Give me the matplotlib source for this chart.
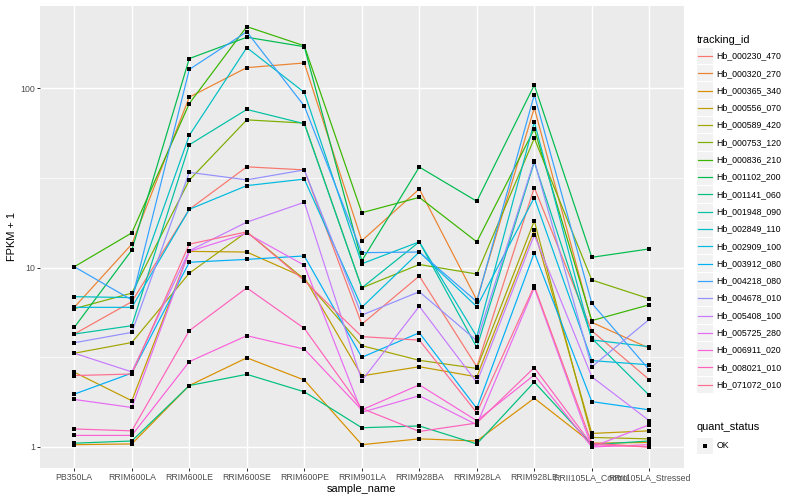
"""FPKM + 1 por muestra para 20 genes (log10), estilo ggplot."""

import matplotlib

matplotlib.use("Agg")

import matplotlib.pyplot as plt
import numpy as np
from matplotlib.lines import Line2D
from matplotlib.patches import Rectangle

plt.rcParams["font.family"] = ["Liberation Sans", "DejaVu Sans"]

SAMPLES = [
    "PB350LA", "RRIM600LA", "RRIM600LE", "RRIM600SE", "RRIM600PE", "RRIM901LA",
    "RRIM928BA", "RRIM928LA", "RRIM928LE", "RRII105LA_Control", "RRII105LA_Stressed",
]

TRACKING_IDS = [
    "Hb_000230_470", "Hb_000320_270", "Hb_000365_340", "Hb_000556_070",
    "Hb_000589_420", "Hb_000753_120", "Hb_000836_210", "Hb_001102_200",
    "Hb_001141_060", "Hb_001948_090", "Hb_002849_110", "Hb_002909_100",
    "Hb_003912_080", "Hb_004218_080", "Hb_004678_010", "Hb_005408_100",
    "Hb_005725_280", "Hb_006911_020", "Hb_008021_010", "Hb_071072_010",
]

# FPKM + 1, one list per gene, in SAMPLES order
hb_000230_470 = [4.26, 6.45, 21.1, 36.4, 35.0, 4.83, 8.97, 2.80, 27.9, 4.44, 2.37]
hb_000320_270 = [6.0, 13.5, 89.0, 130.0, 138.0, 14.1, 27.4, 6.59, 77.6, 4.95, 3.55]
hb_000365_340 = [1.03, 1.04, 2.2, 3.14, 2.36, 1.03, 1.11, 1.08, 1.87, 1.05, 1.06]
hb_000556_070 = [2.61, 1.81, 12.3, 12.2, 8.8, 2.49, 2.8, 2.46, 16.2, 1.19, 1.23]
hb_000589_420 = [3.33, 3.82, 9.3, 15.8, 8.6, 3.67, 3.04, 2.74, 18.2, 1.13, 1.11]
hb_000753_120 = [5.9, 7.2, 30.7, 66.5, 63.8, 7.7, 10.4, 9.2, 52.5, 8.52, 6.7]
hb_000836_210 = [10.1, 15.6, 82.0, 220.0, 172.0, 20.2, 24.6, 13.9, 59.1, 5.06, 6.2]
hb_001102_200 = [4.64, 12.5, 146.0, 192.0, 170.0, 10.9, 36.3, 23.4, 104.0, 11.4, 12.7]
hb_001141_060 = [1.05, 1.08, 2.2, 2.54, 2.03, 1.28, 1.31, 1.04, 2.30, 1.03, 1.08]
hb_001948_090 = [4.26, 4.74, 48.3, 76.0, 63.3, 7.7, 13.9, 3.59, 38.7, 4.03, 1.94]
hb_002849_110 = [6.88, 6.8, 54.5, 168.0, 94.6, 10.5, 13.9, 4.12, 64.9, 3.95, 3.62]
hb_002909_100 = [6.0, 6.0, 21.1, 28.6, 31.1, 6.0, 12.2, 6.05, 24.5, 3.03, 2.87]
hb_003912_080 = [1.97, 2.58, 10.7, 11.1, 11.6, 3.16, 4.33, 1.64, 12.1, 1.79, 1.61]
hb_004218_080 = [10.1, 6.6, 127.0, 206.0, 79.4, 12.1, 12.2, 6.45, 91.8, 6.32, 2.69]
hb_004678_010 = [3.81, 4.35, 33.9, 30.8, 35.0, 5.43, 7.33, 3.91, 39.4, 2.80, 5.14]
hb_005408_100 = [3.33, 2.62, 12.4, 17.9, 23.1, 2.34, 6.08, 2.29, 15.2, 2.46, 1.40]
hb_005725_280 = [1.84, 1.66, 12.3, 15.5, 10.3, 1.56, 1.93, 1.33, 7.71, 1.0, 1.33]
hb_006911_020 = [1.16, 1.16, 2.99, 4.17, 3.51, 1.61, 2.22, 1.40, 2.52, 1.0, 1.03]
hb_008021_010 = [1.26, 1.23, 4.45, 7.7, 4.58, 1.64, 1.22, 1.36, 2.77, 1.03, 1.0]
hb_071072_010 = [2.50, 2.55, 13.5, 15.8, 8.45, 4.12, 3.94, 1.55, 7.89, 1.05, 1.0]

SERIES = [
    hb_000230_470, hb_000320_270, hb_000365_340, hb_000556_070, hb_000589_420,
    hb_000753_120, hb_000836_210, hb_001102_200, hb_001141_060, hb_001948_090,
    hb_002849_110, hb_002909_100, hb_003912_080, hb_004218_080, hb_004678_010,
    hb_005408_100, hb_005725_280, hb_006911_020, hb_008021_010, hb_071072_010,
]

QUANT_STATUS = ["OK"]

# scales::hue_pal()(20)
HUE_20 = [
    "#F8766D", "#EA8331", "#D89000", "#C09B00", "#A3A500", "#7CAE00", "#39B600",
    "#00BB4E", "#00BF7D", "#00C1A3", "#00BFC4", "#00BAE0", "#00B0F6", "#35A2FF",
    "#9590FF", "#C77CFF", "#E76BF3", "#FA62DB", "#FF62BC", "#FF6C91",
]

W, H = 800, 500
PX = 72.0 / 100.0  # 1 px of a 72 dpi R device in points at 100 dpi
POINT_SIZE = 3.4 * PX


def fx(px: float) -> float:
    return px / W


def fy(px: float) -> float:
    return 1.0 - px / H


fig = plt.figure(figsize=(8, 5), dpi=100)
ax = fig.add_axes([fx(39.8), fy(468.0), fx(683.8 - 39.8), (468.0 - 5.6) / H])
ax.set_facecolor("#EBEBEB")
for side in ax.spines.values():
    side.set_visible(False)

x = np.arange(len(SAMPLES))
for values, color in zip(SERIES, HUE_20):
    ax.plot(x, values, color=color, linewidth=1.2 * PX, zorder=3)
for values in SERIES:
    ax.plot(x, values, linestyle="none", marker="s", markersize=POINT_SIZE,
            markeredgewidth=0, color="black", zorder=4)

ax.set_yscale("log")
all_vals = np.log10(np.concatenate([np.asarray(s) for s in SERIES]))
lo, hi = all_vals.min(), all_vals.max()
pad = 0.05 * (hi - lo)
ax.set_ylim(10 ** (lo - pad), 10 ** (hi + pad))
ax.set_xlim(-0.6, len(SAMPLES) - 0.4)

ax.set_yticks([1, 10, 100])
ax.set_yticklabels(["1", "10", "100"])
ax.set_yticks([10 ** 0.5, 10 ** 1.5], minor=True)
ax.yaxis.set_minor_formatter(plt.NullFormatter())
ax.set_xticks(x)
ax.set_xticklabels(SAMPLES)

ax.grid(True, which="major", color="white", linewidth=1.42 * PX)
ax.grid(True, which="minor", axis="y", color="white", linewidth=0.71 * PX)
ax.set_axisbelow(True)
ax.tick_params(axis="both", which="major", length=2.75 * PX, width=1.0 * PX,
               color="#333333", labelcolor="#4D4D4D", labelsize=8.8 * PX,
               pad=2.2 * PX)
ax.tick_params(axis="y", which="minor", length=0)

ax.set_xlabel("sample_name", fontsize=11 * PX, color="black", labelpad=1.5)
ax.set_ylabel("FPKM + 1", fontsize=11 * PX, color="black", labelpad=2.5)

# legend: tracking_id
key = 17.3
fig.text(fx(696.5), fy(40.0), "tracking_id", fontsize=11 * PX, va="center", ha="left")
for i, (name, color) in enumerate(zip(TRACKING_IDS, HUE_20)):
    cy = 56.0 + key * i
    fig.patches.append(Rectangle((fx(696.5), fy(cy + key / 2 - 0.5)), fx(key - 1),
                                 (key - 1) / H, transform=fig.transFigure,
                                 facecolor="#F2F2F2", edgecolor="none"))
    fig.lines.append(Line2D([fx(698.2), fx(712.0)], [fy(cy), fy(cy)],
                            transform=fig.transFigure, color=color,
                            linewidth=1.2 * PX))
    fig.text(fx(716.5), fy(cy), name, fontsize=8.8 * PX, va="center", ha="left")

# legend: quant_status
fig.text(fx(696.5), fy(427.0), "quant_status", fontsize=11 * PX, va="center", ha="left")
for j, status in enumerate(QUANT_STATUS):
    cy = 446.0 + key * j
    fig.patches.append(Rectangle((fx(696.5), fy(cy + key / 2 - 0.5)), fx(key - 1),
                                 (key - 1) / H, transform=fig.transFigure,
                                 facecolor="#F2F2F2", edgecolor="none"))
    fig.lines.append(Line2D([fx(705.0)], [fy(cy)], transform=fig.transFigure,
                            linestyle="none", marker="s", markersize=POINT_SIZE,
                            markeredgewidth=0, color="black"))
    fig.text(fx(716.5), fy(cy), status, fontsize=8.8 * PX, va="center", ha="left")

fig.savefig("out.png", dpi=100, facecolor="white")
